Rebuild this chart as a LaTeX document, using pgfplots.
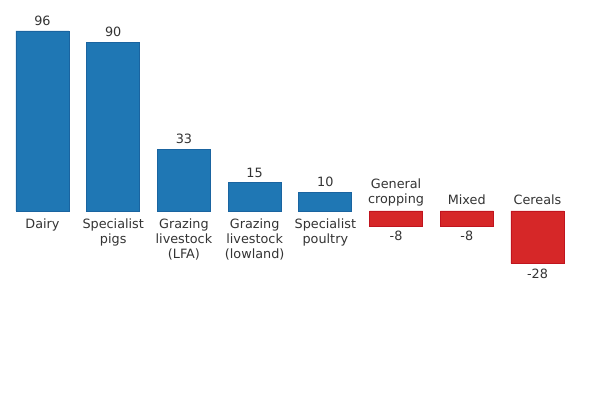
\documentclass[border=0pt]{standalone}
\usepackage{pgfplots}
\pgfplotsset{compat=1.18}
\usepackage{fontspec}
\setmainfont{DejaVu Sans}
\definecolor{barblue}{HTML}{1F77B4}
\definecolor{bluedge}{HTML}{1A64A0}
\definecolor{barred}{HTML}{D62728}
\definecolor{rededge}{HTML}{C0141E}
\definecolor{txt}{HTML}{333333}
\tikzset{cat/.style={font=\fontsize{9.6}{11.25}\selectfont, text=txt, align=center, inner sep=0pt}}
\begin{document}
\begin{tikzpicture}
\begin{axis}[
  scale only axis, width=450pt, height=300pt,
  xmin=-0.601, xmax=7.884, ymin=-100.8, ymax=112.5,
  hide axis, clip=false,
  ybar, bar width=39.75pt, bar shift=0pt,
  nodes near coords={\pgfmathprintnumber[assume math mode=true]{\pgfplotspointmeta}},
  every node near coord/.append style={font=\fontsize{9.6}{11.25}\selectfont, text=txt, inner sep=3.75pt},
]
\addplot[fill=barblue, draw=bluedge, line width=0.6pt] coordinates {(0,96) (1,90) (2,33) (3,15) (4,10)};
\addplot[fill=barred, draw=rededge, line width=0.6pt] coordinates {(5,-8) (6,-8) (7,-28)};
\node[cat, anchor=north, yshift=-6pt] at (axis cs:0,0) {Dairy};
\node[cat, anchor=north, yshift=-6pt] at (axis cs:1,0) {Specialist\\pigs};
\node[cat, anchor=north, yshift=-6pt] at (axis cs:2,0) {Grazing\\livestock\\(LFA)};
\node[cat, anchor=north, yshift=-6pt] at (axis cs:3,0) {Grazing\\livestock\\(lowland)};
\node[cat, anchor=north, yshift=-6pt] at (axis cs:4,0) {Specialist\\poultry};
\node[cat, anchor=south, yshift=3.4pt] at (axis cs:5,0) {General\\cropping};
\node[cat, anchor=south, yshift=4.4pt] at (axis cs:6,0) {Mixed};
\node[cat, anchor=south, yshift=4.4pt] at (axis cs:7,0) {Cereals};
\end{axis}
\pgfresetboundingbox
\path (0,0) rectangle (450pt,300pt);
\end{tikzpicture}
\end{document}
